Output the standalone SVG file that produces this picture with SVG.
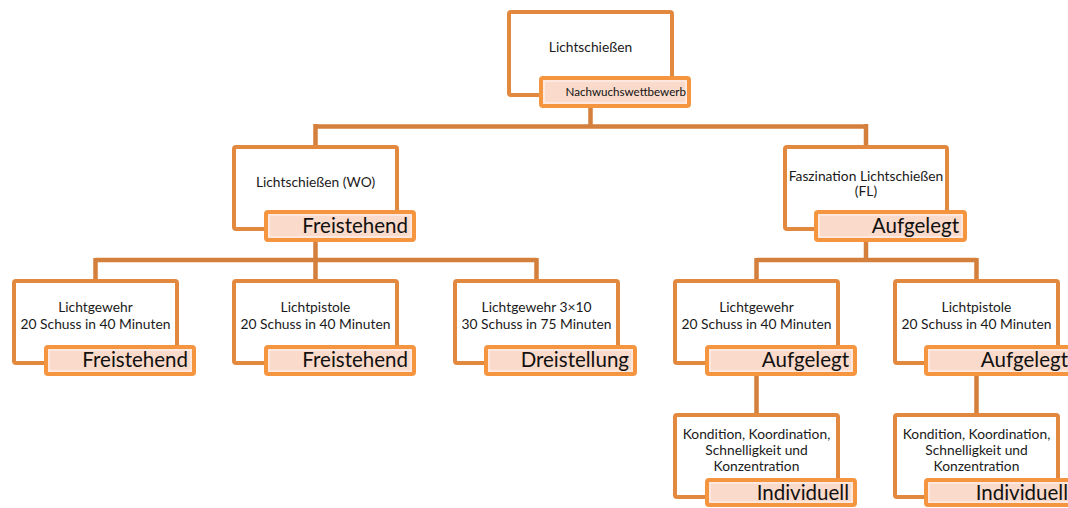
<svg xmlns="http://www.w3.org/2000/svg" width="1068" height="508" viewBox="0 0 1068 508">
<style>
.box{fill:#FFFFFF;stroke:#E3893F;stroke-width:4}
.lab{fill:#FADACA;stroke:#F5953F;stroke-width:4}
.labin{fill:none;stroke:#FCE8DE;stroke-width:2}
.con{fill:none;stroke:#D4803C;stroke-width:4.5}
.t{font-family:Lato,"Open Sans","Liberation Sans",sans-serif;font-size:13.8px;fill:#1A1A1A;text-anchor:middle}
.l{font-family:Lato,"Open Sans","Liberation Sans",sans-serif;font-size:20.5px;fill:#111111;text-anchor:end}
.ls{font-family:Lato,"Open Sans","Liberation Sans",sans-serif;font-size:11.6px;fill:#111111;text-anchor:end}
</style>
<g id="connectors">
<path class="con" d="M590.5 108 V126.5 M315.5 126.5 H866 M315.5 124 V146 M866 124 V146"/>
<path class="con" d="M315.5 242 V260 M95.5 260 H536.5 M95.5 258 V280 M315.5 258 V280 M536.5 258 V280"/>
<path class="con" d="M866 242 V260 M756.5 260 H976.5 M756.5 258 V280 M976.5 258 V280"/>
<path class="con" d="M756.5 376 V414 M976.5 376 V414"/>
</g>
<g id="n0">
<rect class="box" x="509" y="12" width="163" height="83" rx="2"/>
<text class="t" x="590.5" y="52">Lichtschießen</text>
<rect class="lab" x="541" y="78" width="148" height="28" rx="2"/>
<rect class="labin" x="544" y="81" width="142" height="22"/>
<text class="ls" x="686" y="96">Nachwuchswettbewerb</text>
</g>
<g id="n1">
<rect class="box" x="234" y="147" width="163" height="82" rx="2"/>
<text class="t" x="315.5" y="187">Lichtschießen (WO)</text>
<rect class="lab" x="266" y="212" width="148" height="28" rx="2"/>
<rect class="labin" x="269" y="215" width="142" height="22"/>
<text class="l" x="408" y="233">Freistehend</text>
</g>
<g id="n2">
<rect class="box" x="785" y="147" width="162" height="82" rx="2"/>
<text class="t" x="866" y="181">Faszination Lichtschießen</text>
<text class="t" x="866" y="196">(FL)</text>
<rect class="lab" x="816" y="212" width="149" height="28" rx="2"/>
<rect class="labin" x="819" y="215" width="143" height="22"/>
<text class="l" x="959" y="233">Aufgelegt</text>
</g>
<g id="n3">
<rect class="box" x="14" y="281" width="163" height="82" rx="2"/>
<text class="t" x="95.5" y="312">Lichtgewehr</text>
<text class="t" x="95.5" y="329">20 Schuss in 40 Minuten</text>
<rect class="lab" x="46" y="347" width="148" height="27" rx="2"/>
<rect class="labin" x="49" y="350" width="142" height="21"/>
<text class="l" x="188" y="367">Freistehend</text>
</g>
<g id="n4">
<rect class="box" x="234" y="281" width="163" height="82" rx="2"/>
<text class="t" x="315.5" y="312">Lichtpistole</text>
<text class="t" x="315.5" y="329">20 Schuss in 40 Minuten</text>
<rect class="lab" x="266" y="347" width="148" height="27" rx="2"/>
<rect class="labin" x="269" y="350" width="142" height="21"/>
<text class="l" x="408" y="367">Freistehend</text>
</g>
<g id="n5">
<rect class="box" x="455" y="281" width="163" height="82" rx="2"/>
<text class="t" x="536.5" y="312">Lichtgewehr 3×10</text>
<text class="t" x="536.5" y="329">30 Schuss in 75 Minuten</text>
<rect class="lab" x="486" y="347" width="149" height="27" rx="2"/>
<rect class="labin" x="489" y="350" width="143" height="21"/>
<text class="l" x="629" y="367">Dreistellung</text>
</g>
<g id="n6">
<rect class="box" x="675" y="281" width="163" height="82" rx="2"/>
<text class="t" x="756.5" y="312">Lichtgewehr</text>
<text class="t" x="756.5" y="329">20 Schuss in 40 Minuten</text>
<rect class="lab" x="707" y="347" width="148" height="27" rx="2"/>
<rect class="labin" x="710" y="350" width="142" height="21"/>
<text class="l" x="849" y="367">Aufgelegt</text>
</g>
<g id="n7">
<rect class="box" x="895" y="281" width="163" height="82" rx="2"/>
<text class="t" x="976.5" y="312">Lichtpistole</text>
<text class="t" x="976.5" y="329">20 Schuss in 40 Minuten</text>
<rect class="lab" x="926" y="347" width="148" height="27" rx="2"/>
<rect class="labin" x="929" y="350" width="142" height="21"/>
<text class="l" x="1068" y="367">Aufgelegt</text>
</g>
<g id="n8">
<rect class="box" x="675" y="415" width="163" height="82" rx="2"/>
<text class="t" x="756.5" y="439">Kondition, Koordination,</text>
<text class="t" x="756.5" y="455">Schnelligkeit und</text>
<text class="t" x="756.5" y="471">Konzentration</text>
<rect class="lab" x="707" y="480" width="148" height="25" rx="2"/>
<rect class="labin" x="710" y="483" width="142" height="19"/>
<text class="l" x="849" y="500">Individuell</text>
</g>
<g id="n9">
<rect class="box" x="895" y="415" width="163" height="82" rx="2"/>
<text class="t" x="976.5" y="439">Kondition, Koordination,</text>
<text class="t" x="976.5" y="455">Schnelligkeit und</text>
<text class="t" x="976.5" y="471">Konzentration</text>
<rect class="lab" x="926" y="480" width="148" height="25" rx="2"/>
<rect class="labin" x="929" y="483" width="142" height="19"/>
<text class="l" x="1068" y="500">Individuell</text>
</g>
</svg>
